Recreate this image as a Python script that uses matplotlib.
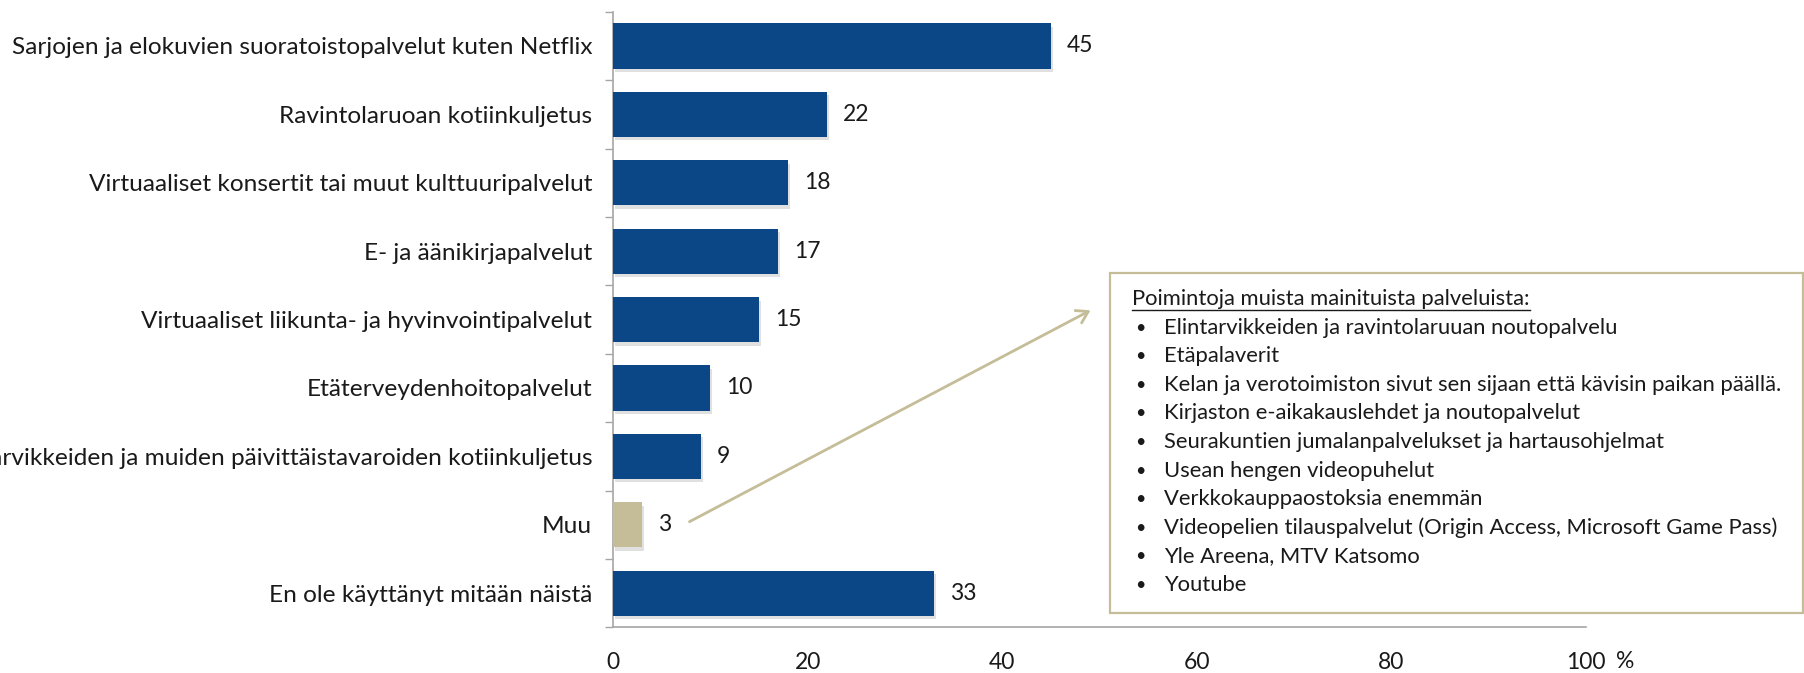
import matplotlib
matplotlib.use("Agg")
import matplotlib.pyplot as plt
import matplotlib.patheffects as pe
from matplotlib.patches import Rectangle
import numpy as np

plt.rcParams['font.family'] = ['Lato', 'DejaVu Sans']

categories = [
    "Sarjojen ja elokuvien suoratoistopalvelut kuten Netflix",
    "Ravintolaruoan kotiinkuljetus",
    "Virtuaaliset konsertit tai muut kulttuuripalvelut",
    "E- ja äänikirjapalvelut",
    "Virtuaaliset liikunta- ja hyvinvointipalvelut",
    "Etäterveydenhoitopalvelut",
    "Elintarvikkeiden ja muiden päivittäistavaroiden kotiinkuljetus",
    "Muu",
    "En ole käyttänyt mitään näistä",
]
values = [45, 22, 18, 17, 15, 10, 9, 3, 33]
x_ticks = [0, 20, 40, 60, 80, 100]
x_tick_labels = ["0", "20", "40", "60", "80", "100"]
unit_label = "%"
box_title = "Poimintoja muista mainituista palveluista:"
box_items = [
    "Elintarvikkeiden ja ravintolaruuan noutopalvelu",
    "Etäpalaverit",
    "Kelan ja verotoimiston sivut sen sijaan että kävisin paikan päällä.",
    "Kirjaston e-aikakauslehdet ja noutopalvelut",
    "Seurakuntien jumalanpalvelukset ja hartausohjelmat",
    "Usean hengen videopuhelut",
    "Verkkokauppaostoksia enemmän",
    "Videopelien tilauspalvelut (Origin Access, Microsoft Game Pass)",
    "Yle Areena, MTV Katsomo",
    "Youtube",
]

BLUE = "#0B4787"
TAN = "#C4BD97"
TEXT = "#1a1a1a"
W, H = 1804, 673

fig = plt.figure(figsize=(W / 100, H / 100), dpi=100)
ax = fig.add_axes([613 / W, 1 - 627.4 / H, (1586 - 613) / W, (627.4 - 11.8) / H])

y = np.arange(len(categories))
colors = [TAN if c == "Muu" else BLUE for c in categories]
bars = ax.barh(y, values, height=0.66, color=colors, zorder=3)
for b in bars:
    b.set_path_effects([pe.SimplePatchShadow(offset=(1.5, -2.5), shadow_rgbFace="#999999", alpha=0.3), pe.Normal()])

for yi, v in zip(y, values):
    ax.text(v + 1.65, yi, str(v), va="center", ha="left", fontsize=16.5, color=TEXT)

ax.set_xlim(0, 100)
ax.set_ylim(len(categories) - 0.5, -0.5)

ax.set_yticks(y)
ax.set_yticklabels(categories, fontsize=17.6, color=TEXT)
ax.tick_params(axis="y", which="major", length=0, pad=15)
ax.set_yticks(np.arange(-0.5, len(categories), 1), minor=True)
ax.tick_params(axis="y", which="minor", length=6, width=1, color="#A6A6A6", direction="out")

ax.set_xticks(x_ticks)
ax.set_xticklabels(x_tick_labels, fontsize=16.5, color=TEXT)
ax.tick_params(axis="x", length=0, pad=18)

for s in ["top", "right"]:
    ax.spines[s].set_visible(False)
for s in ["left", "bottom"]:
    ax.spines[s].set_color("#A6A6A6")
    ax.spines[s].set_linewidth(1.2)

fig.text(1625 / W, 1 - 661 / H, unit_label, fontsize=16.5, color=TEXT, ha="center", va="center")

# Annotation box
rect = Rectangle((1110 / W, 1 - 613 / H), (1803 - 1110) / W, (613 - 273) / H,
                 transform=fig.transFigure, fill=False, edgecolor=TAN, linewidth=1.6)
fig.add_artist(rect)

line_y0 = 299
line_dy = 28.6
title = fig.text(1132 / W, 1 - line_y0 / H, box_title, fontsize=15.8, color=TEXT, ha="left", va="center")
for i, item in enumerate(box_items):
    yy = 1 - (line_y0 + (i + 1) * line_dy) / H
    fig.text(1135 / W, yy, "•", fontsize=13, color=TEXT, ha="left", va="center")
    fig.text(1164 / W, yy, item, fontsize=15.8, color=TEXT, ha="left", va="center")

fig.canvas.draw()
bb = title.get_window_extent(renderer=fig.canvas.get_renderer())
uy = (bb.y0 - 1) / H
fig.add_artist(plt.Line2D([bb.x0 / W, bb.x1 / W], [uy, uy], transform=fig.transFigure,
                          color=TEXT, linewidth=1))

# Arrow from "Muu" label to the box
fig.add_artist(matplotlib.patches.FancyArrowPatch(
    (687 / W, 1 - 523 / H), (1093 / W, 1 - 309 / H), transform=fig.transFigure,
    arrowstyle="->,head_length=8,head_width=5", color=TAN, linewidth=2))

fig.savefig("out.png", dpi=100)
